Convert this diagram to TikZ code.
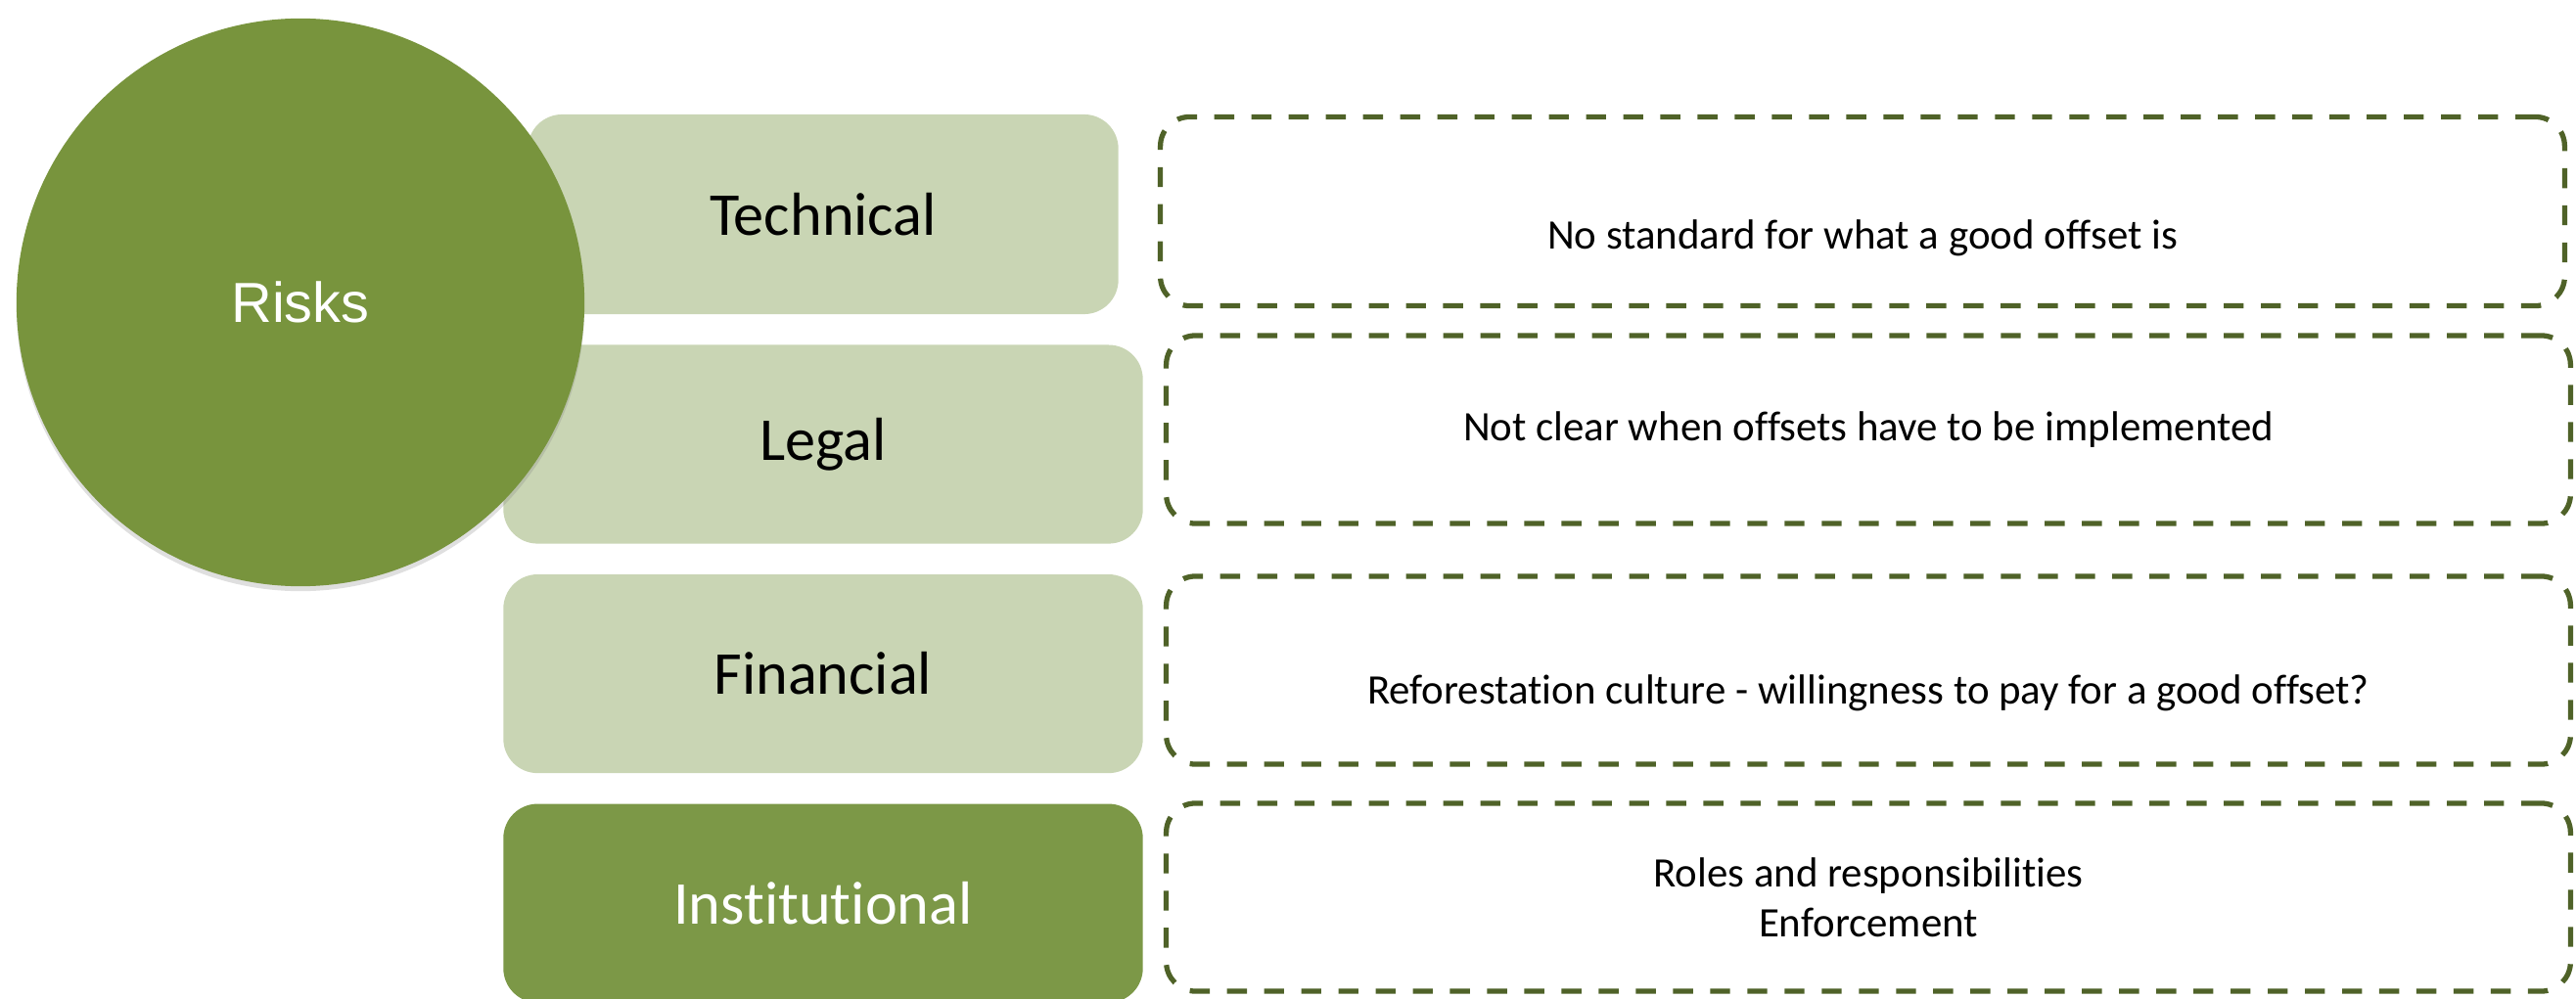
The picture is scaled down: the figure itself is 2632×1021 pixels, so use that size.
\documentclass[tikz,border=0pt]{standalone}
\usepackage{fontspec}
\setmainfont{Carlito}[RawFeature={-liga;-clig}]
\newfontfamily\arialfont{Liberation Sans}
\usetikzlibrary{positioning,shadows}
\definecolor{olive}{HTML}{78943D}
\definecolor{palegreen}{HTML}{C9D5B4}
\definecolor{midolive}{HTML}{7C9847}
\definecolor{darkolive}{HTML}{4F6228}

\begin{document}
\begin{tikzpicture} [x=0.01cm, y=-0.01cm, node distance=0.3cm, riskhub/.style={circle, fill=olive, inner sep=0pt, minimum size=5.8cm, text=white, font=\arialfont\fontsize{16.4}{20}\selectfont, drop shadow={opacity=0.25, shadow xshift=0pt, shadow yshift=-0.05cm}}, category/.style={rectangle, rounded corners=0.35cm, fill=palegreen, minimum width=6.53cm, minimum height=2.03cm, font=\fontsize{17.7}{21}\selectfont}, detail/.style={rectangle, rounded corners=0.3cm, draw=darkolive, line width=1.5pt, dash pattern=on 5.8pt off 5pt, minimum width=14.34cm, minimum height=1.92cm}, note/.style={font=\fontsize{12.2}{14.6}\selectfont, align=center}]
\useasboundingbox (0,0) rectangle (2632,1021);
{
  % Risk categories
  \node [category, minimum width=6.03cm, minimum height=2.04cm] (technical) at (841,219) {Technical};
  \node [category, below=of technical] (legal) {Legal};
  \node [category, below=of legal] (financial) {Financial};
  \node [category, below=of financial, fill=midolive, text=white] (institutional) {Institutional};
  % Hub
  \node [riskhub] (risks) at (307,309) {Risks};
  % Details
  \node [detail, minimum height=1.93cm] (d1) at (1903,216) {};
  \node [detail] (d2) at (1909,439) {};
  \node [detail] (d3) at (1909,685) {};
  \node [detail] (d4) at (1909,917) {};
  \node [note] (n1) at ([yshift=-0.27cm]d1.center) {No standard for what a good offset is};
  \node [note] (n2) at (d2.center) {Not clear when offsets have to be implemented};
  \node [note] (n3) at ([yshift=-0.23cm]d3.center) {Reforestation culture - willingness to pay for a good offset?};
  \node [note] (n4) at (d4.center) {Roles and responsibilities\\Enforcement};
}
\end{tikzpicture}
\end{document}
